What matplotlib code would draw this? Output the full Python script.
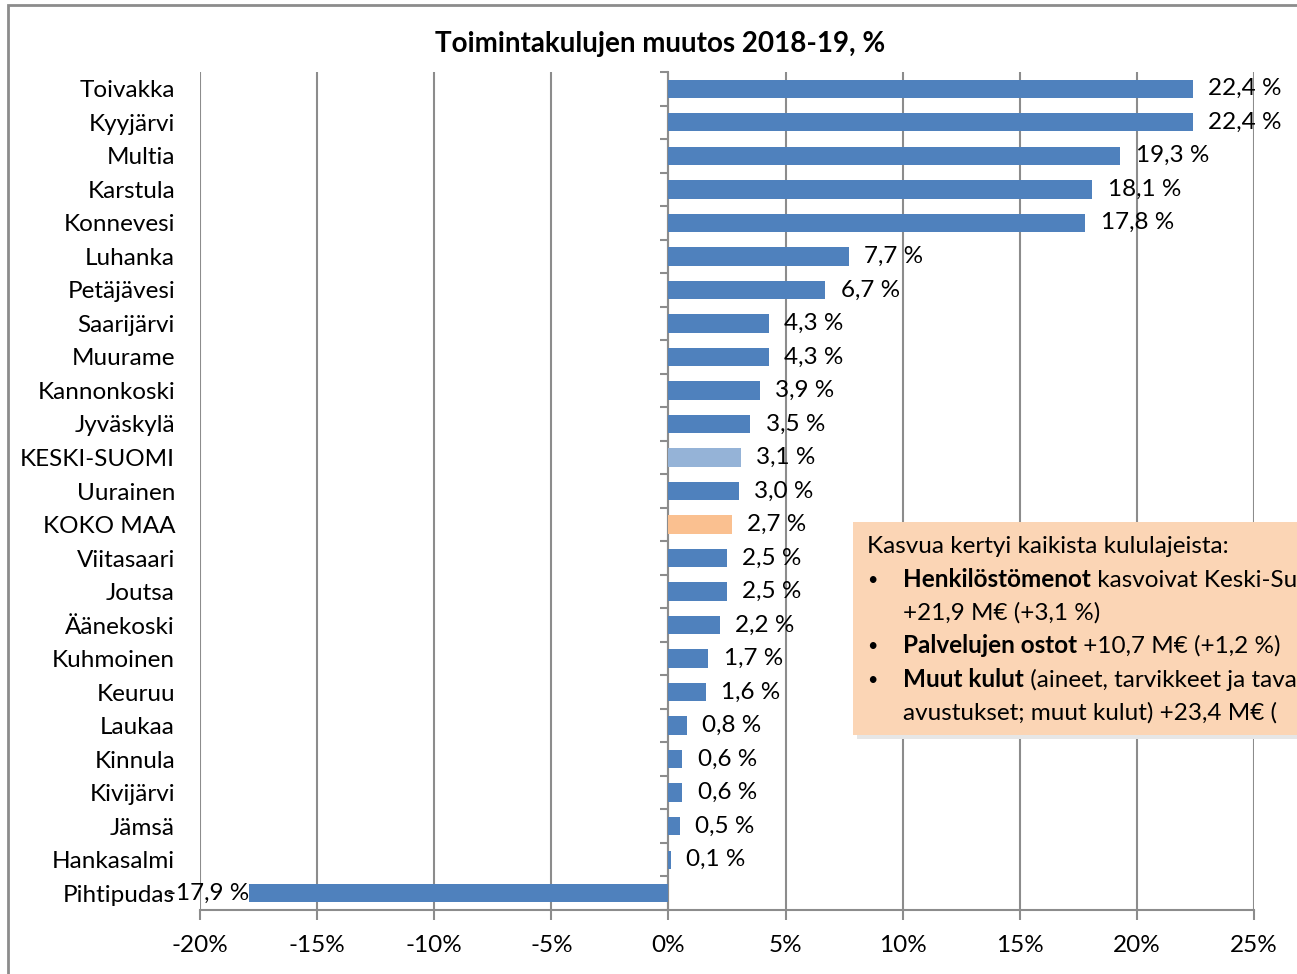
import numpy as np
import matplotlib
matplotlib.use("Agg")
import matplotlib.pyplot as plt
from matplotlib.patches import Rectangle

plt.rcParams['font.family'] = ['Lato', 'DejaVu Sans']

# data, top to bottom
kunnat = ['Toivakka', 'Kyyjärvi', 'Multia', 'Karstula', 'Konnevesi', 'Luhanka',
          'Petäjävesi', 'Saarijärvi', 'Muurame', 'Kannonkoski', 'Jyväskylä',
          'KESKI-SUOMI', 'Uurainen', 'KOKO MAA', 'Viitasaari', 'Joutsa',
          'Äänekoski', 'Kuhmoinen', 'Keuruu', 'Laukaa', 'Kinnula', 'Kivijärvi',
          'Jämsä', 'Hankasalmi', 'Pihtipudas']
muutos = [22.4, 22.4, 19.3, 18.1, 17.8, 7.7, 6.7, 4.3, 4.3, 3.9, 3.5, 3.1, 3.0,
          2.7, 2.5, 2.5, 2.2, 1.7, 1.6, 0.8, 0.6, 0.6, 0.5, 0.1, -17.9]
xticks = [-20, -15, -10, -5, 0, 5, 10, 15, 20, 25]

W, H = 1297, 974
fs = 17.5
grid_col = '#8c8c8c'

colors = []
for k in kunnat:
    if k == 'KESKI-SUOMI':
        colors.append('#95B3D7')
    elif k == 'KOKO MAA':
        colors.append('#FAC090')
    else:
        colors.append('#4F81BD')

fig = plt.figure(figsize=(W / 100, H / 100), dpi=100)
ax = fig.add_axes([200 / W, 1 - 910 / H, 1054 / W, 838 / H])

y = np.arange(len(kunnat))
ax.barh(y, muutos, height=0.55, color=colors, zorder=3)
ax.set_ylim(len(kunnat) - 0.5, -0.5)
ax.set_xlim(-20, 25)

ax.set_xticks(xticks)
ax.set_xticklabels([f'{t}%' for t in xticks], fontsize=fs)
ax.tick_params(axis='x', length=7, width=1.5, color=grid_col, pad=11)
ax.set_yticks(y)
ax.set_yticklabels(kunnat, fontsize=fs)
ax.tick_params(axis='y', length=0, pad=18)

ax.grid(axis='x', color=grid_col, linewidth=1.5, zorder=0)
for s in ['top', 'right', 'left']:
    ax.spines[s].set_visible(False)
ax.spines['bottom'].set_color(grid_col)
ax.spines['bottom'].set_linewidth(1.5)

# axis at zero with category boundary ticks
sec = ax.secondary_yaxis(20 / 45)
sec.set_yticks(np.arange(len(kunnat) + 1) - 0.5)
sec.set_yticklabels([])
sec.tick_params(length=6, width=1.5, color=grid_col)
sec.spines['left'].set_color(grid_col)
sec.spines['left'].set_linewidth(1.5)

for yi, v in zip(y, muutos):
    lab = f'{v:.1f} %'.replace('.', ',')
    if v >= 0:
        ax.annotate(lab, (v, yi), xytext=(11, 0), textcoords='offset points',
                    ha='left', va='center', fontsize=fs, zorder=4)
    else:
        ax.annotate(lab, (v, yi), xytext=(0, 0), textcoords='offset points',
                    ha='right', va='center', fontsize=fs, zorder=4)

fig.text(660 / W, 1 - 44 / H, 'Toimintakulujen muutos 2018-19, %',
         ha='center', va='center', fontsize=20, fontweight='bold')

# outer frame
fig.patches.append(Rectangle((8 / W, -0.01), 1.1, 1 - 5 / H + 0.01,
                             transform=fig.transFigure, fill=False,
                             edgecolor='#8c8c8c', linewidth=2))

# note box with shadow
bx, by0, by1 = 853, 522, 735
fig.patches.append(Rectangle(((bx + 4) / W, 1 - (by1 + 4) / H), 0.5, (by1 - by0) / H,
                             transform=fig.transFigure, facecolor='#e6e6e6',
                             edgecolor='none', zorder=5))
fig.patches.append(Rectangle((bx / W, 1 - by1 / H), 0.5, (by1 - by0) / H,
                             transform=fig.transFigure, facecolor='#FBD5B5',
                             edgecolor='none', zorder=6))

renderer = fig.canvas.get_renderer()


def runs(x_px, base_px, parts):
    x = x_px
    for txt, bold in parts:
        t = fig.text(x / W, 1 - base_px / H, txt, fontsize=fs, va='baseline',
                     ha='left', fontweight='bold' if bold else 'normal', zorder=7)
        x = t.get_window_extent(renderer).x1


lines = [
    (867, 553, [('Kasvua kertyi kaikista kululajeista:', False)]),
    (903, 587, [('Henkilöstömenot', True), (' kasvoivat Keski-Suomessa', False)]),
    (903, 620, [('+21,9 M€ (+3,1 %)', False)]),
    (903, 653, [('Palvelujen ostot', True), (' +10,7 M€ (+1,2 %)', False)]),
    (903, 687, [('Muut kulut', True), (' (aineet, tarvikkeet ja tavarat;', False)]),
    (903, 720, [('avustukset; muut kulut) +23,4 M€ (', False)]),
]
for x0, b, parts in lines:
    runs(x0, b, parts)
for b in [587, 653, 687]:
    fig.text(867 / W, 1 - (b - 2) / H, '•', fontsize=13, va='baseline', ha='left', zorder=7)

fig.savefig('out.png', dpi=100)
